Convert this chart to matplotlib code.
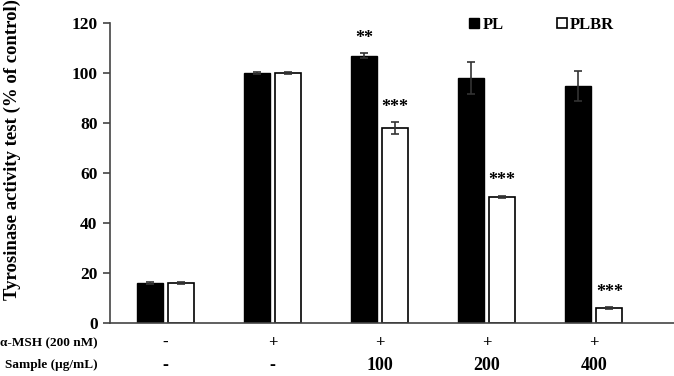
import matplotlib
matplotlib.use("Agg")
import matplotlib.pyplot as plt
import numpy as np

plt.rcParams['font.family'] = ['Liberation Serif', 'DejaVu Serif']
plt.rcParams['font.weight'] = 'bold'

groups = ['ctrl', 'msh', '100', '200', '400']
pl = [16, 100, 107, 98, 95]
pl_err = [0.5, 0.5, 1.0, 6.5, 6.0]
plbr = [16, 100, 78, 50.5, 6]
plbr_err = [0.3, 0.5, 2.5, 0.5, 0.3]
pl_marks = ['', '', '**', '', '']
plbr_marks = ['', '', '***', '***', '***']
msh_row = ['-', '+', '+', '+', '+']
sample_row = ['-', '-', '100', '200', '400']

fig = plt.figure(figsize=(6.74, 3.76), dpi=100)
ax = fig.add_axes([110/674, 1-323/376, 1-110/674, 300/376])

x = np.arange(len(groups))
w = 0.245
off = 0.145
err_kw = dict(ecolor='#333333', elinewidth=1.2, capsize=3, capthick=1.2)
ax.bar(x - off, pl, w, yerr=pl_err, color='black', edgecolor='black',
       linewidth=1, error_kw=err_kw, label='PL')
ax.bar(x + off, plbr, w, yerr=plbr_err, color='white', edgecolor='black',
       linewidth=1.2, error_kw=err_kw, label='PLBR')

for i in range(len(groups)):
    if pl_marks[i]:
        ax.text(x[i] - off, pl[i] + pl_err[i] + 2.5, pl_marks[i], ha='center',
                va='bottom', fontsize=13, fontweight='bold')
    if plbr_marks[i]:
        ax.text(x[i] + off, plbr[i] + plbr_err[i] + 2.5, plbr_marks[i], ha='center',
                va='bottom', fontsize=13, fontweight='bold')

ax.set_ylim(0, 120)
ax.set_xlim(-0.52, 4.75)
ax.set_yticks(range(0, 121, 20))
ax.tick_params(axis='y', labelsize=12.5, length=5, width=1.2, direction='out', pad=4, color='#444444')
ax.set_xticks([])
for s in ['top', 'right']:
    ax.spines[s].set_visible(False)
for s in ['left', 'bottom']:
    ax.spines[s].set_color('#444444')
    ax.spines[s].set_linewidth(1.2)

for t in ax.get_yticklabels():
    t.set_fontweight('bold')

# condition rows below the axis
for i in range(len(groups)):
    xf = ax.transData.transform((x[i], 0))[0] / fig.bbox.width
    fig.text(xf, 1-343/376, msh_row[i], ha='center', va='center', fontsize=12, fontweight='bold')
    fig.text(xf, 1-365/376, sample_row[i], ha='center', va='center', fontsize=13, fontweight='bold')
fig.text(98/674, 1-343/376, 'α-MSH (200 nM)', ha='right', va='center', fontsize=9.5, fontweight='bold')
fig.text(98/674, 1-365/376, 'Sample (µg/mL)', ha='right', va='center', fontsize=9.5, fontweight='bold')

fig.text(12/674, 1-150/376, 'Tyrosinase activity test (% of control)', rotation=90,
         ha='center', va='center', fontsize=13.5, fontweight='bold')

ax.legend(loc='upper left', bbox_to_anchor=(0.61, 1.07), ncol=2, frameon=False,
          handlelength=0.6, handleheight=0.6, columnspacing=3.2,
          handletextpad=0.2, prop={'weight': 'bold', 'size': 12})

fig.savefig('out.png', dpi=100)
